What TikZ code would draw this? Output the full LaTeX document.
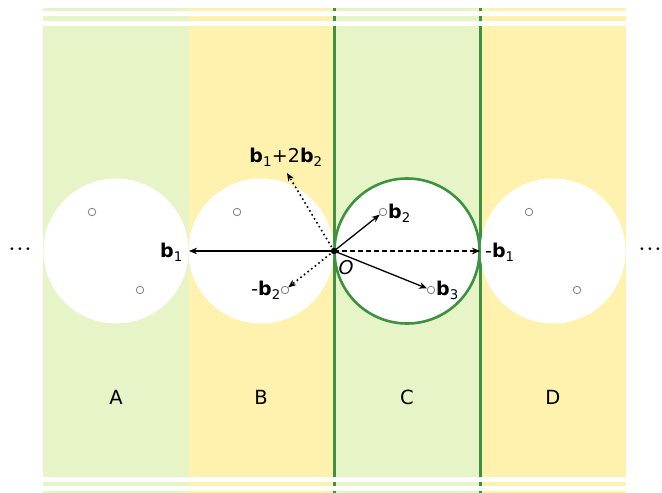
\documentclass[tikz,border=0pt]{standalone}
\usepackage{fontspec}
\setmainfont{DejaVu Sans}
\usetikzlibrary{arrows.meta}
\definecolor{lgreen}{RGB}{230,244,200}
\definecolor{lyellow}{RGB}{255,242,175}
\definecolor{dgreen}{RGB}{61,145,64}
\newcommand{\bv}[1]{\textbf{b}\textsubscript{#1}}
\newcommand{\threedots}{{\fontsize{9}{10}\selectfont\textbullet\hspace{2.6pt}\textbullet\hspace{2.6pt}\textbullet}}
\begin{document}
\begin{tikzpicture}[x=1pt,y=-1pt,
  pt/.style={circle,draw=gray,line width=0.8pt,inner sep=0pt,minimum size=7.5pt},
  vec/.style={-{Stealth[length=8pt,width=6.5pt,inset=2.5pt]},line width=1.3pt},
  lab/.style={font=\fontsize{19.5}{22}\selectfont,inner sep=1pt},
  blab/.style={font=\fontsize{19}{22}\selectfont,inner sep=1pt}]
\useasboundingbox (0,0) rectangle (662,493);
% bands
\foreach \ya/\yb in {8/11,16/21,26/477,482/486,491/493}{
  \fill[lgreen] (43,\ya) rectangle (189,\yb);
  \fill[lyellow] (189,\ya) rectangle (334,\yb);
  \fill[lgreen] (334,\ya) rectangle (480,\yb);
  \fill[lyellow] (480,\ya) rectangle (626,\yb);
  \fill[dgreen] (333,\ya) rectangle (336,\yb);
  \fill[dgreen] (479,\ya) rectangle (482,\yb);
}
% circles
\foreach \n/\x in {A/116,B/261,C/407,D/553}{
  \fill[white] (\x,251) circle[radius=72.5];
  \node[pt] (p1\n) at (\x-24,212) {};
  \node[pt] (p2\n) at (\x+24,290) {};
  \node[lab] (l\n) at (\x,397) {\n};
}
\draw[dgreen,line width=2.6pt] (407,251) circle[radius=72.5];
% origin and vectors
\coordinate (O) at (334,251);
\coordinate (b1) at (189,251);
\coordinate (mb1) at (480,251);
\coordinate (b12) at (287,173);
\draw[vec] (O) -- (b1);
\draw[vec,dash pattern=on 5pt off 3pt] (O) -- (mb1);
\draw[vec] (O) -- (p1C);
\draw[vec] (O) -- (p2C);
\draw[vec,dash pattern=on 1.6pt off 3pt,line width=1.6pt] (O) -- (p2B);
\draw[vec,dash pattern=on 1.6pt off 3pt,line width=1.6pt] (O) -- (b12);
\fill (O) circle[radius=3.2];
\node[blab] (Ol) at (346,268) {\itshape O};
\node[blab,anchor=east] (lb1) at (184,252) {\bv{1}};
\node[blab,anchor=west] (lmb1) at (484,252) {-\bv{1}};
\node[blab,anchor=west] (lb2) at (387,213) {\bv{2}};
\node[blab,anchor=west] (lb3) at (435,290) {\bv{3}};
\node[blab,anchor=east] (lmb2) at (282,290) {-\bv{2}};
\node[blab] (lb12) at (286,157) {\bv{1}+2\bv{2}};
\node[inner sep=0pt] (dl) at (20,250) {\threedots};
\node[inner sep=0pt] (dr) at (650,250) {\threedots};
\end{tikzpicture}
\end{document}
